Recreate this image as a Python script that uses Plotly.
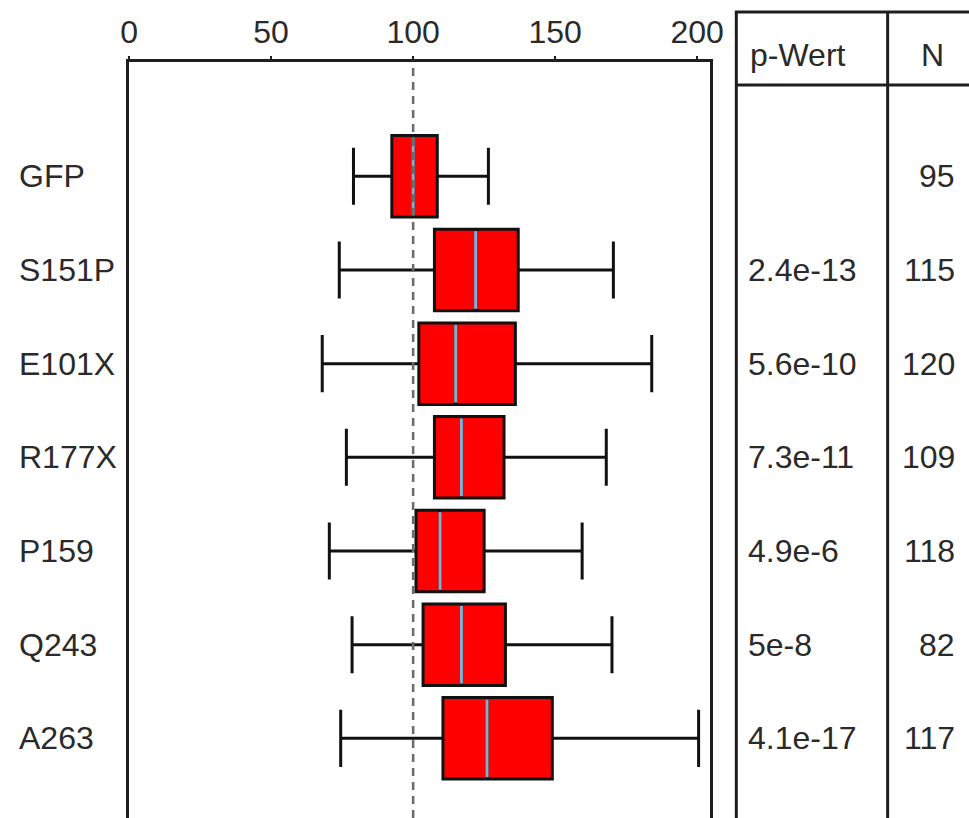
import plotly.graph_objects as go

# ---- data ----
groups = ["GFP", "S151P", "E101X", "R177X", "P159", "Q243", "A263"]
lower_whisker = [79, 74, 68, 76.5, 70.5, 78.5, 74.5]
q1_vals = [92.5, 107.5, 102, 107.5, 101, 103.5, 110.5]
median_vals = [100, 122, 115, 117, 109.5, 117, 126]
q3_vals = [108.5, 137, 136, 132, 125, 132.5, 149]
upper_whisker = [126.5, 170.5, 184, 168, 159.5, 170, 200.5]
p_values = ["", "2.4e-13", "5.6e-10", "7.3e-11", "4.9e-6", "5e-8", "4.1e-17"]
n_values = [95, 115, 120, 109, 118, 82, 117]
x_ticks = [0, 50, 100, 150, 200]
reference_value = 100

# ---- layout constants (pixels of the 969x818 canvas) ----
W, H = 969, 818
FONT = "Liberation Sans, Arial, sans-serif"
TXT = "#2a2a2a"
LINE = "#1e1e1e"
FS = 32
BOX_W = 0.87

pos = list(range(len(groups)))

fig = go.Figure()
fig.add_trace(go.Box(
    y=pos, q1=q1_vals, median=median_vals, q3=q3_vals,
    lowerfence=lower_whisker, upperfence=upper_whisker,
    orientation="h", boxpoints=False, width=BOX_W, whiskerwidth=0.7,
    fillcolor="#ff0000", line=dict(color="#111111", width=3),
    showlegend=False, hoverinfo="skip",
))

# light-blue median lines on top of the boxes
mx, my = [], []
for p, m in zip(pos, median_vals):
    mx += [m, m, None]
    my += [p - BOX_W / 2 + 0.02, p + BOX_W / 2 - 0.02, None]
fig.add_trace(go.Scatter(x=mx, y=my, mode="lines",
                         line=dict(color="#80b0d4", width=3),
                         showlegend=False, hoverinfo="skip"))

fig.add_vline(x=reference_value, line=dict(color="#6a6a6a", width=2.5, dash="8px,6px"),
              layer="above")

# row labels
for p, g in zip(pos, groups):
    fig.add_annotation(x=8 / W, xref="paper", y=p, yref="y", text=g,
                       showarrow=False, xanchor="left", yanchor="middle",
                       font=dict(family=FONT, size=FS, color=TXT))

# table
tl, tc, tt, th = 745 / W, 900 / W, 1 - 12 / H, 1 - 85 / H
for shp in [
    dict(x0=tl, x1=tl, y0=0, y1=tt),
    dict(x0=tc, x1=tc, y0=0, y1=tt),
    dict(x0=tl - 0.0015, x1=1.02, y0=tt, y1=tt),
    dict(x0=tl, x1=1.02, y0=th, y1=th),
]:
    fig.add_shape(type="line", xref="paper", yref="paper",
                  line=dict(color=LINE, width=3), **shp)

hy = 1 - 55 / H
fig.add_annotation(x=757 / W, xref="paper", y=hy, yref="paper", text="p-Wert",
                   showarrow=False, xanchor="left", yanchor="middle",
                   font=dict(family=FONT, size=FS, color=TXT))
fig.add_annotation(x=946 / W, xref="paper", y=hy, yref="paper", text="N",
                   showarrow=False, xanchor="center", yanchor="middle",
                   font=dict(family=FONT, size=FS, color=TXT))
for p, pv, n in zip(pos, p_values, n_values):
    if pv:
        fig.add_annotation(x=755 / W, xref="paper", y=p, yref="y", text=pv,
                           showarrow=False, xanchor="left", yanchor="middle",
                           font=dict(family=FONT, size=FS, color=TXT))
    fig.add_annotation(x=971 / W, xref="paper", y=p, yref="y", text=str(n),
                       showarrow=False, xanchor="right", yanchor="middle",
                       font=dict(family=FONT, size=FS, color=TXT))

fig.update_layout(
    width=W, height=H,
    margin=dict(l=0, r=0, t=0, b=0),
    paper_bgcolor="white", plot_bgcolor="white",
    xaxis=dict(domain=[123 / W, 718 / W], range=[0, 204.5], side="top",
               tickvals=x_ticks, ticktext=[str(t) for t in x_ticks],
               showline=True, linecolor=LINE, linewidth=3, mirror=False,
               ticks="outside", ticklen=3, tickwidth=2, tickcolor=LINE,
               showgrid=False, zeroline=False,
               tickfont=dict(family=FONT, size=FS, color=TXT)),
    yaxis=dict(domain=[0, 1 - 62 / H], range=[6.85, -1.22],
               showticklabels=False, ticks="", showgrid=False, zeroline=False,
               showline=True, linecolor=LINE, linewidth=3, mirror=True),
)

fig.write_html("out.html")
